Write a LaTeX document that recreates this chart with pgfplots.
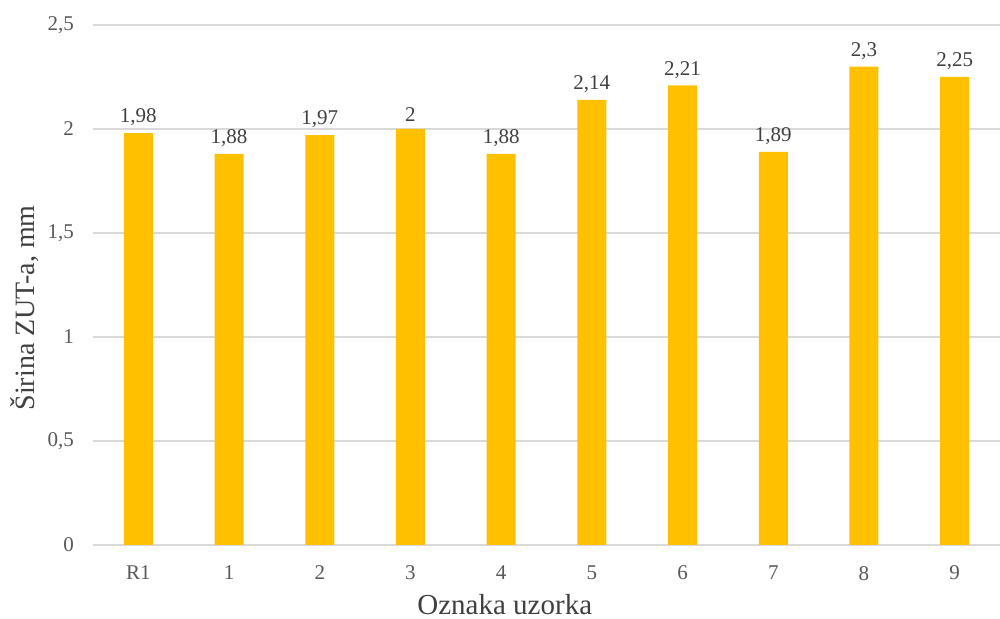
\documentclass[border=0pt]{standalone}
\usepackage{pgfplots}
\pgfplotsset{compat=1.18}
\usepackage{fontspec}
\setmainfont{Liberation Serif}
\definecolor{barc}{HTML}{FFC000}
\definecolor{gridc}{HTML}{D9D9D9}
\definecolor{tickc}{HTML}{595959}
\definecolor{labc}{HTML}{404040}
\begin{document}
\begin{tikzpicture}
\begin{axis}[
  at={(0,0)}, anchor=south west,
  scale only axis,
  width=453.5pt, height=260pt,
  xmin=-0.5, xmax=9.5,
  ymin=0, ymax=2.5,
  ytick={0,0.5,...,2.5},
  xtick={0,...,9},
  xticklabels={R1,1,2,3,4,5,6,7,8,9},
  axis line style={draw=none},
  major tick length=0pt,
  ymajorgrids,
  grid style={gridc, line width=0.6pt},
  /pgf/number format/assume math mode=true,
  /pgf/number format/use comma,
  yticklabel style={font=\fontsize{10.5}{12}\selectfont, text=tickc, xshift=-6pt},
  xticklabel style={font=\fontsize{10.5}{12}\selectfont, text=tickc, yshift=-7pt},
  ylabel={Širina ZUT-a, mm},
  ylabel style={font=\fontsize{14}{16}\selectfont, text=labc, at={(axis description cs:-0.0755,0.456)}, anchor=center},
  xlabel={Oznaka uzorka},
  xlabel style={font=\fontsize{14.5}{16}\selectfont, text=labc, inner sep=0pt, at={(axis description cs:0.454,0)}, anchor=center, yshift=-30pt},
  clip=false,
]
\draw[gridc, line width=0.6pt] (axis cs:-0.5,0) -- (axis cs:9.5,0);
\addplot[ybar, bar width=14.5pt, fill=barc, draw=none,
  nodes near coords,
  nodes near coords style={font=\fontsize{10.5}{12}\selectfont, text=labc, /pgf/number format/fixed, /pgf/number format/precision=2, /pgf/number format/use comma, /pgf/number format/assume math mode=true, yshift=0pt}]
coordinates {(0,1.98) (1,1.88) (2,1.97) (3,2) (4,1.88) (5,2.14) (6,2.21) (7,1.89) (8,2.3) (9,2.25)};
\end{axis}
\pgfresetboundingbox
\path[use as bounding box] (-46.5pt,-37pt) rectangle (453.5pt,272.5pt);
\end{tikzpicture}
\end{document}
